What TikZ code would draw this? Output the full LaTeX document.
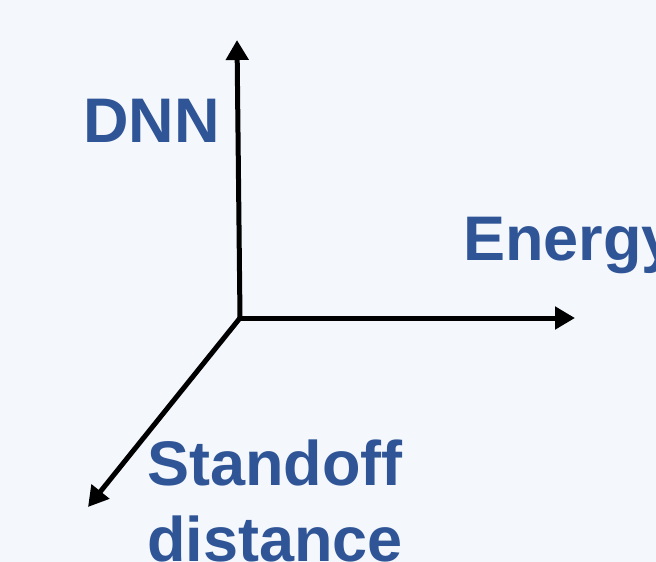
\documentclass[tikz,border=0pt]{standalone}
\usepackage{fontspec}
\setmainfont{Liberation Sans}
\usetikzlibrary{arrows.meta}
\definecolor{bgc}{HTML}{F4F7FC}
\definecolor{lbl}{HTML}{2F5597}
\begin{document}
\begin{tikzpicture}[x=1pt,y=-1pt,
  axis/.style={line width=5pt,-{Triangle[length=20pt,width=22pt]}},
  lab/.style={text=lbl,font=\fontsize{63}{76}\selectfont\bfseries,inner sep=0pt,anchor=base west,align=left}]
\fill[bgc] (0,0) rectangle (656,562);
\useasboundingbox (0,0) rectangle (656,562);
\coordinate (O) at (240,318);
\coordinate (Up) at (237,40);
\coordinate (Right) at (575,318);
\coordinate (Diag) at (88,507);
\draw[axis] (O) -- (Up);
\draw[axis] (O) -- (Right);
\draw[axis] (O) -- (Diag);
\node[lab] (dnn) at (83,142) {DNN};
\node[lab] (energy) at (463,260) {Energy};
\node[lab] (standoff) at (147,561) {Standoff\\distance};
\end{tikzpicture}
\end{document}
